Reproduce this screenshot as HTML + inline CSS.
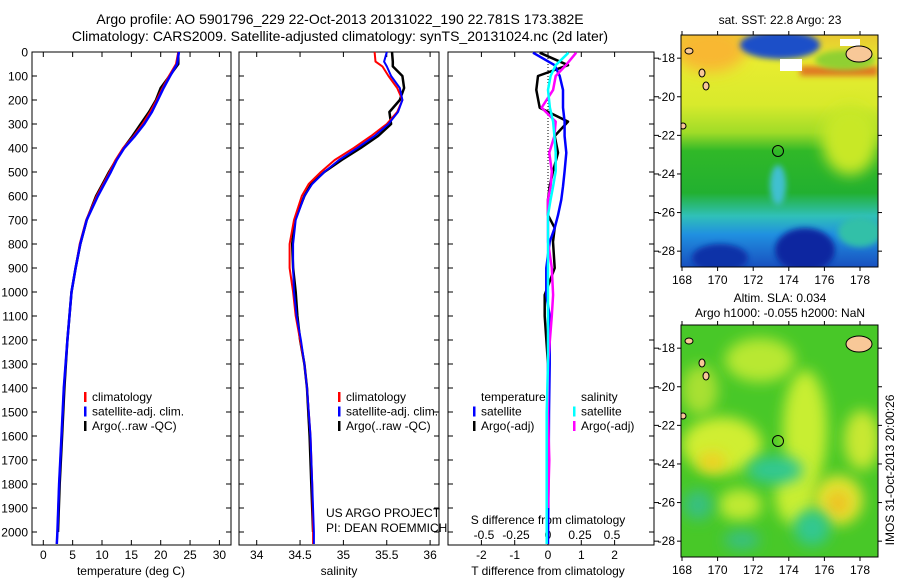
<!DOCTYPE html>
<html><head><meta charset="utf-8"><style>
html,body{margin:0;padding:0;background:#fff;}
svg{display:block;font-family:"Liberation Sans",sans-serif;}
text{fill:#000;}
</style></head><body>
<svg id="fig" width="900" height="580" viewBox="0 0 900 580">
<defs>
<filter id="bl" filterUnits="userSpaceOnUse" x="600" y="0" width="300" height="580"><feGaussianBlur stdDeviation="7"/></filter>
<filter id="bl2" filterUnits="userSpaceOnUse" x="600" y="0" width="300" height="580"><feGaussianBlur stdDeviation="3"/></filter>
<linearGradient id="sstg" x1="0" y1="0" x2="0" y2="1">
<stop offset="0" stop-color="#e8c830"/>
<stop offset="0.12" stop-color="#e8ec30"/>
<stop offset="0.30" stop-color="#d8ea2c"/>
<stop offset="0.42" stop-color="#a0dc28"/>
<stop offset="0.50" stop-color="#30b828"/>
<stop offset="0.68" stop-color="#22b030"/>
<stop offset="0.78" stop-color="#30c0b8"/>
<stop offset="0.86" stop-color="#2090e0"/>
<stop offset="1" stop-color="#1850c0"/>
</linearGradient>
<clipPath id="cm1"><rect x="681" y="35" width="197" height="232"/></clipPath>
<clipPath id="cm2"><rect x="681" y="325" width="197" height="232"/></clipPath>
</defs>
<text x="340" y="24" font-size="14" text-anchor="middle">Argo profile: AO 5901796_229 22-Oct-2013 20131022_190 22.781S 173.382E</text>
<text x="340" y="41" font-size="14" text-anchor="middle">Climatology: CARS2009. Satellite-adjusted climatology: synTS_20131024.nc (2d later)</text>

<!-- top map -->
<g clip-path="url(#cm1)">
<rect x="681" y="35" width="197" height="232" fill="url(#sstg)"/>
<ellipse cx="710" cy="50" rx="35" ry="22" fill="#f8b830" filter="url(#bl)"/>
<ellipse cx="780" cy="45" rx="40" ry="14" fill="#1a50c8" filter="url(#bl2)"/>
<rect x="800" y="66" width="78" height="10" fill="#e07820" filter="url(#bl2)"/>
<ellipse cx="845" cy="60" rx="30" ry="10" fill="#90d030" filter="url(#bl2)"/>
<ellipse cx="850" cy="140" rx="28" ry="35" fill="#c8e828" filter="url(#bl)"/>
<ellipse cx="778" cy="185" rx="8" ry="20" fill="#40c0d0" filter="url(#bl2)"/>
<ellipse cx="720" cy="258" rx="28" ry="14" fill="#1030a8" filter="url(#bl2)"/>
<ellipse cx="805" cy="250" rx="30" ry="22" fill="#0a28a0" filter="url(#bl2)"/>
<ellipse cx="860" cy="232" rx="22" ry="15" fill="#30c0a8" filter="url(#bl2)"/>
<rect x="780" y="59" width="22" height="12" fill="#fff"/>
<rect x="840" y="39" width="20" height="7" fill="#fff"/>
<ellipse cx="859" cy="54" rx="13" ry="8" fill="#f8c898" stroke="#000" stroke-width="1"/>
<ellipse cx="689" cy="51" rx="4" ry="3" fill="#f8c898" stroke="#000" stroke-width="1"/>
<ellipse cx="702" cy="73" rx="3" ry="4" fill="#f8c898" stroke="#000" stroke-width="1"/>
<ellipse cx="706" cy="86" rx="3" ry="4" fill="#f8c898" stroke="#000" stroke-width="1"/>
<ellipse cx="683" cy="126" rx="3" ry="3" fill="#f8c898" stroke="#000" stroke-width="1"/>
<circle cx="778" cy="151" r="5.5" fill="none" stroke="#000" stroke-width="1"/>
</g>
<rect x="681" y="35" width="197" height="232" fill="none" stroke="#000"/>

<!-- bottom map -->
<g clip-path="url(#cm2)">
<rect x="681" y="325" width="197" height="232" fill="#48c828"/>
<ellipse cx="722" cy="445" rx="40" ry="28" fill="#d0ee30" filter="url(#bl)"/>
<ellipse cx="712" cy="462" rx="14" ry="10" fill="#f0d020" filter="url(#bl)"/>
<ellipse cx="805" cy="430" rx="22" ry="60" fill="#c8ee30" filter="url(#bl)"/>
<ellipse cx="795" cy="495" rx="20" ry="30" fill="#c8ee30" filter="url(#bl)"/>
<ellipse cx="862" cy="440" rx="18" ry="30" fill="#c8e830" filter="url(#bl)"/>
<ellipse cx="838" cy="500" rx="25" ry="25" fill="#e0e430" filter="url(#bl)"/>
<ellipse cx="838" cy="503" rx="11" ry="12" fill="#f0c020" filter="url(#bl)"/>
<ellipse cx="760" cy="360" rx="35" ry="22" fill="#b8e830" filter="url(#bl)"/>
<ellipse cx="740" cy="505" rx="22" ry="16" fill="#c0ea30" filter="url(#bl)"/>
<ellipse cx="700" cy="390" rx="18" ry="25" fill="#a8e030" filter="url(#bl)"/>
<ellipse cx="775" cy="470" rx="28" ry="14" fill="#30c890" filter="url(#bl)"/>
<ellipse cx="812" cy="528" rx="18" ry="18" fill="#30c890" filter="url(#bl)"/>
<ellipse cx="698" cy="505" rx="15" ry="15" fill="#38c080" filter="url(#bl)"/>
<ellipse cx="742" cy="540" rx="18" ry="10" fill="#38c080" filter="url(#bl)"/>
<ellipse cx="859" cy="344" rx="13" ry="8" fill="#f8c898" stroke="#000" stroke-width="1"/>
<ellipse cx="689" cy="341" rx="4" ry="3" fill="#f8c898" stroke="#000" stroke-width="1"/>
<ellipse cx="702" cy="363" rx="3" ry="4" fill="#f8c898" stroke="#000" stroke-width="1"/>
<ellipse cx="706" cy="376" rx="3" ry="4" fill="#f8c898" stroke="#000" stroke-width="1"/>
<ellipse cx="683" cy="416" rx="3" ry="3" fill="#f8c898" stroke="#000" stroke-width="1"/>
<circle cx="778" cy="441" r="5.5" fill="none" stroke="#000" stroke-width="1"/>
</g>
<rect x="681" y="325" width="197" height="232" fill="none" stroke="#000"/>
<text x="780" y="24" font-size="12" text-anchor="middle">sat. SST: 22.8 Argo: 23</text>
<text x="780" y="302" font-size="12" text-anchor="middle">Altim. SLA: 0.034</text>
<text x="780" y="317" font-size="12" text-anchor="middle">Argo h1000: -0.055 h2000: NaN</text>
<text transform="translate(894,470) rotate(-90)" font-size="12" text-anchor="middle">IMOS 31-Oct-2013 20:00:26</text>
<g id="axes"></g>
</svg>
<script>
// ---------- data ----------
const depthTicks = [0,100,200,300,400,500,600,700,800,900,1000,1100,1200,1300,1400,1500,1600,1700,1800,1900,2000];
const tempTicks = [0,5,10,15,20,25,30];
const salTicks = [34,34.5,35,35.5,36];
const tdiffTicks = [-2,-1,0,1,2];
const sdiffTicks = [-0.5,-0.25,0,0.25,0.5];
const sdiffTickLabels = ["-0.5","-0.25","0","0.25","0.5"];
const lonTicks = [168,170,172,174,176,178];
const latTicks = [-16,-18,-20,-22,-24,-26,-28];

const tDepth = [0,50,100,150,200,250,300,350,400,450,500,550,600,700,800,900,1000,1200,1400,1600,1800,2000,2050];
const tClim  = [23.0,22.6,21.4,20.3,19.3,18.2,16.9,15.4,13.6,12.3,11.3,10.2,9.1,7.3,6.2,5.5,4.8,4.1,3.5,3.1,2.7,2.4,2.3];
const tSat   = [23.1,22.8,21.6,20.5,19.5,18.5,17.2,15.6,13.8,12.5,11.5,10.4,9.3,7.4,6.3,5.5,4.8,4.1,3.5,3.1,2.7,2.4,2.3];
const tArgo  = [23.0,23.0,21.5,20.0,19.2,18.0,16.6,15.2,13.7,12.4,11.2,10.1,9.0,7.4,6.3,5.5,4.8,4.1,3.6,3.2,2.8,2.5];
const sDepth = [0,40,60,100,150,200,250,300,350,400,450,500,550,600,700,800,900,1000,1100,1200,1300,1400,1600,1800,2000,2050];
const sClim  = [35.36,35.37,35.45,35.52,35.62,35.68,35.62,35.50,35.32,35.12,34.90,34.74,34.60,34.52,34.43,34.38,34.38,34.42,34.45,34.50,34.55,34.58,34.62,34.64,34.65,34.65];
const sSat   = [35.50,35.47,35.50,35.55,35.65,35.68,35.63,35.52,35.36,35.16,34.95,34.78,34.64,34.55,34.45,34.42,34.42,34.43,34.46,34.51,34.55,34.58,34.62,34.64,34.66,34.66];
const sArgo  = [35.56,35.57,35.57,35.68,35.70,35.65,35.53,35.55,35.40,35.20,34.98,34.78,34.63,34.55,34.44,34.41,34.42,34.45,34.47,34.50,34.55,34.58,34.61,34.63,34.65];
const dDepth = [3,55,100,158,232,290,350,420,497,560,615,680,733,791,900,1012,1100,1300,1500,1700,1900,2050];
const dTsat  = [-0.45,0.2,0.35,0.45,0.45,0.5,0.5,0.55,0.5,0.45,0.4,0.3,0.2,0.05,-0.05,-0.05,0.05,0.05,0.03,0.02,0.01,0.0];
const dTargo = [-0.25,0.6,-0.3,-0.35,-0.25,0.6,0.2,0.3,0.15,0.05,0.0,0.0,0.2,0.15,0.2,-0.1,-0.1,0.0,0.0,0.0,0.0];
const dSsat  = [0.16,0.06,0.02,0.0,0.015,0.04,0.05,0.06,0.06,0.04,0.02,0.0,0.0,0.0,0.0,0.0,0.0,0.0,-0.01,-0.01,-0.01,-0.01];
const dSargo = [0.22,0.14,0.06,0.04,-0.05,0.06,0.05,0.01,0.03,0.02,0.0,0.0,0.0,0.0,0.03,0.04,0.03,0.0,0.0,0.01,0.0];

// ---------- helpers ----------
const NS="http://www.w3.org/2000/svg";
const root=document.getElementById('axes');
function mk(tag,attrs,parent){const e=document.createElementNS(NS,tag);for(const k in attrs)e.setAttribute(k,attrs[k]);(parent||root).appendChild(e);return e;}
const Y0=52, PXM=0.24, YB=545;
const yD=d=>Y0+d*PXM;
const panels=[
 {l:32,r:231,x:v=>43.3+v*5.87,name:'temperature-panel'},
 {l:239,r:439,x:v=>256.7+(v-34)*86.7,name:'salinity-panel'},
 {l:448,r:654,x:v=>548+v*33.3,name:'difference-panel'}];
const xS=v=>548+v*128;

panels.forEach((p,i)=>{
 const g=mk('g',{});
 
 
 mk('rect',{x:p.l,y:Y0,width:p.r-p.l,height:YB-Y0,fill:'none',stroke:'#000'},g);
 depthTicks.forEach(d=>{
  mk('line',{x1:p.l,x2:p.l+5,y1:yD(d),y2:yD(d),stroke:'#000'},g);
  mk('line',{x1:p.r,x2:p.r-5,y1:yD(d),y2:yD(d),stroke:'#000'},g);
 });
 p.g=g;
});
depthTicks.forEach(d=>{
 const t=mk('text',{x:28,y:yD(d)+4.5,'font-size':12,'text-anchor':'end'});
 
 
 t.textContent=d;
});
function xticks(p,ticks,labels,ly,name){
 ticks.forEach((v,i)=>{
  const x=p.x(v);
  mk('line',{x1:x,x2:x,y1:YB,y2:YB-5,stroke:'#000'},p.g);
  mk('line',{x1:x,x2:x,y1:Y0,y2:Y0+5,stroke:'#000'},p.g);
  const t=mk('text',{x:x,y:ly,'font-size':12,'text-anchor':'middle'});
  
  
  t.textContent=labels?labels[i]:v;
 });
}
xticks(panels[0],tempTicks,null,559,'temperature-tick-label');
xticks(panels[1],salTicks,null,559,'salinity-tick-label');
xticks(panels[2],tdiffTicks,null,559,'t-diff-tick-label');
sdiffTicks.forEach((v,i)=>{
 const t=mk('text',{x:xS(v),y:539,'font-size':12,'text-anchor':'middle'});
 
 
 t.textContent=sdiffTickLabels[i];
});
function label(x,y,s,name,anchor,size){
 const t=mk('text',{x:x,y:y,'font-size':size||12,'text-anchor':anchor||'middle'});
 
 
 t.textContent=s;return t;
}
label(131,575,'temperature (deg C)','temperature-axis-title');
label(339,575,'salinity','salinity-axis-title');
label(548,575,'T difference from climatology','t-diff-axis-title');
label(548,524,'S difference from climatology','s-diff-axis-title');
label(326,517,'US ARGO PROJECT','project-credit','start');
label(326,532,'PI: DEAN ROEMMICH','pi-credit','start');

const zl=mk('line',{x1:548,x2:548,y1:Y0,y2:YB,stroke:'#000','stroke-dasharray':'1,2'});



function series(xf,vals,depths,color,w,name){
 const pts=vals.map((v,i)=>xf(v).toFixed(1)+','+yD(depths[i]).toFixed(1)).join(' ');
 const pl=mk('polyline',{points:pts,fill:'none',stroke:color,'stroke-width':w,'stroke-linejoin':'round'});
 
 
}
const xT=panels[0].x, xSal=panels[1].x, xTd=panels[2].x;
series(xT,tArgo,tDepth,'#000',2.5,'temperature-argo-line');
series(xT,tClim,tDepth,'#f00',2,'temperature-climatology-line');
series(xT,tSat,tDepth,'#00f',2.5,'temperature-satellite-line');
series(xSal,sArgo,sDepth,'#000',2.5,'salinity-argo-line');
series(xSal,sClim,sDepth,'#f00',2,'salinity-climatology-line');
series(xSal,sSat,sDepth,'#00f',2,'salinity-satellite-line');
series(xTd,dTargo,dDepth,'#000',2.5,'t-diff-argo-line');
series(xTd,dTsat,dDepth,'#00f',2.5,'t-diff-satellite-line');
series(xS,dSargo,dDepth,'#f0f',2.5,'s-diff-argo-line');
series(xS,dSsat,dDepth,'#0ff',2.5,'s-diff-satellite-line');

function leg(x,y,color,s,name){
 const r=mk('rect',{x:x,y:y-9,width:2.5,height:10,fill:color});
 
 
 label(x+8,y,s,name,'start');
}
[[84,'climatology','#f00'],[84,'satellite-adj. clim.','#00f'],[84,'Argo(..raw -QC)','#000']].forEach((a,i)=>{
 leg(a[0],401+i*14.5,a[2],a[1],'temperature-legend-entry');
 leg(338,401+i*14.5,a[2],a[1],'salinity-legend-entry');
});
label(481,401,'temperature','diff-legend-temperature-header','start');
label(581,401,'salinity','diff-legend-salinity-header','start');
leg(473,415.5,'#00f','satellite','diff-legend-t-satellite');
leg(473,430,'#000','Argo(-adj)','diff-legend-t-argo');
leg(573,415.5,'#0ff','satellite','diff-legend-s-satellite');
leg(573,430,'#f0f','Argo(-adj)','diff-legend-s-argo');

[[35,'sst'],[325,'sla']].forEach(m=>{
 const top=m[0];
 const lx=v=>682+(v-168)*17.8;
 const ly=v=>top+(-v-16.8)*19.3;
 lonTicks.forEach(v=>{
  mk('line',{x1:lx(v),x2:lx(v),y1:top,y2:top-4,stroke:'#000'});
  mk('line',{x1:lx(v),x2:lx(v),y1:top+232,y2:top+236,stroke:'#000'});
  label(lx(v),top+249,String(v),m[1]+'-lon-tick-label');
 });
 latTicks.forEach(v=>{
  if(ly(v)<top||ly(v)>top+232)return;
  mk('line',{x1:681,x2:677,y1:ly(v),y2:ly(v),stroke:'#000'});
  mk('line',{x1:878,x2:882,y1:ly(v),y2:ly(v),stroke:'#000'});
  mk('line',{x1:654,x2:659,y1:ly(v),y2:ly(v),stroke:'#000'});
  label(675,ly(v)+4,String(v),m[1]+'-lat-tick-label','end');
 });
});
</script>
</body></html>
